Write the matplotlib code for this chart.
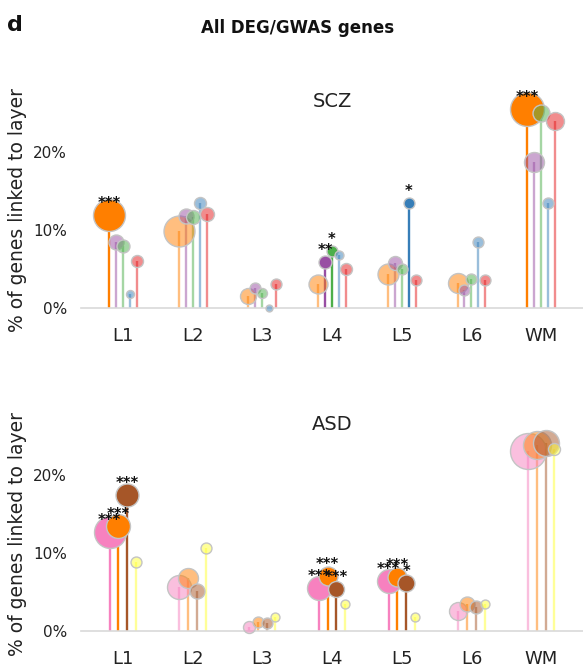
import numpy as np
import matplotlib
matplotlib.use("Agg")
import matplotlib.pyplot as plt
from matplotlib.colors import to_rgba

layers = ["L1", "L2", "L3", "L4", "L5", "L6", "WM"]

# ---- SCZ: % of genes linked to each layer, per gene set ----
scz_orange_pct = [11.9, 9.8, 1.5, 3.0, 4.3, 3.1, 25.4]
scz_purple_pct = [8.4, 11.7, 2.5, 5.8, 5.7, 2.2, 18.7]
scz_green_pct = [7.9, 11.6, 1.8, 7.3, 4.9, 3.7, 25.0]
scz_blue_pct = [1.7, 13.4, 0.0, 6.7, 13.4, 8.4, 13.4]
scz_red_pct = [6.0, 12.0, 3.0, 5.0, 3.5, 3.5, 23.9]

# number of genes behind each point (marker area)
scz_orange_n = [256, 240, 64, 90, 110, 100, 289]
scz_purple_n = [56, 56, 30, 42, 49, 30, 100]
scz_green_n = [42, 49, 25, 30, 30, 30, 72]
scz_blue_n = [16, 36, 12, 20, 30, 30, 30]
scz_red_n = [36, 49, 30, 36, 30, 30, 81]

# enrichment significance
scz_orange_sig = ["***", "", "", "", "", "", "***"]
scz_purple_sig = ["", "", "", "**", "", "", ""]
scz_green_sig = ["", "", "", "*", "", "", ""]
scz_blue_sig = ["", "", "", "", "*", "", ""]
scz_red_sig = ["", "", "", "", "", "", ""]

# ---- ASD ----
asd_pink_pct = [12.7, 5.7, 0.5, 5.5, 6.4, 2.6, 23.1]
asd_orange_pct = [13.5, 6.8, 1.1, 7.0, 6.9, 3.4, 23.8]
asd_brown_pct = [17.5, 5.1, 1.0, 5.4, 6.2, 3.1, 24.1]
asd_yellow_pct = [8.9, 10.7, 1.8, 3.5, 1.8, 3.5, 23.3]

asd_pink_n = [256, 144, 36, 144, 144, 81, 324]
asd_orange_n = [144, 100, 30, 90, 90, 56, 196]
asd_brown_n = [132, 56, 30, 64, 72, 42, 169]
asd_yellow_n = [30, 30, 20, 20, 20, 20, 36]

asd_pink_sig = ["***", "", "", "***", "***", "", ""]
asd_orange_sig = ["***", "", "", "***", "***", "", ""]
asd_brown_sig = ["***", "", "", "***", "*", "", ""]
asd_yellow_sig = ["", "", "", "", "", "", ""]

RED, BLUE, GREEN, PURPLE = "#e41a1c", "#377eb8", "#4daf4a", "#984ea3"
ORANGE, YELLOW, BROWN, PINK = "#ff7f00", "#ffff33", "#a65628", "#f781bf"

TEXT = "#222222"


def lollipops(ax, series, title):
    k = len(series)
    step = 0.5 / k
    xbase = np.arange(len(layers))
    for i, (pct, n, sig, color) in enumerate(series):
        off = (i - (k - 1) / 2) * step
        for x, v, m, s in zip(xbase + off, pct, n, sig):
            y = v / 100.0
            a = 1.0 if s else 0.5
            ax.vlines(x, 0, y, color=color, alpha=a, lw=1.7, zorder=2,
                      clip_on=False)
            ax.scatter([x], [y], s=2.07 * m, facecolor=to_rgba(color, a),
                       edgecolor="#c4c4c4", linewidth=1.0, zorder=5 + i,
                       clip_on=False)
            if s:
                ax.annotate(s, (x, y), xytext=(0, 5.0),
                            textcoords="offset points", ha="center",
                            va="baseline", fontsize=10.5, fontweight="bold",
                            color="#111111", zorder=30,
                            annotation_clip=False)
    ax.set_xlim(-0.6, 6.6)
    ax.set_ylim(0, 0.25)
    ax.set_xticks(xbase)
    ax.set_xticklabels(layers, fontsize=13, color=TEXT)
    ax.set_yticks([0, 0.1, 0.2])
    ax.set_yticklabels(["0%", "10%", "20%"], fontsize=11, color=TEXT)
    ax.tick_params(axis="x", length=0, pad=14)
    ax.tick_params(axis="y", length=0, pad=10)
    for side in ("left", "right", "top"):
        ax.spines[side].set_visible(False)
    ax.spines["bottom"].set_color("#d9d9d9")
    ax.spines["bottom"].set_linewidth(1.2)
    ax.set_title(title, fontsize=14, color=TEXT, pad=4)
    ax.set_ylabel("% of genes linked to layer", fontsize=13.5, color=TEXT)
    ax.yaxis.set_label_coords(-0.108, 0.5)


fig = plt.figure(figsize=(5.83, 6.70), dpi=100)
ax_top = fig.add_axes([81 / 583, 362.5 / 670, 502 / 583, 195 / 670])
ax_bot = fig.add_axes([81 / 583, 39 / 670, 502 / 583, 195 / 670])

lollipops(ax_top, [
    (scz_orange_pct, scz_orange_n, scz_orange_sig, ORANGE),
    (scz_purple_pct, scz_purple_n, scz_purple_sig, PURPLE),
    (scz_green_pct, scz_green_n, scz_green_sig, GREEN),
    (scz_blue_pct, scz_blue_n, scz_blue_sig, BLUE),
    (scz_red_pct, scz_red_n, scz_red_sig, RED),
], "SCZ")

lollipops(ax_bot, [
    (asd_pink_pct, asd_pink_n, asd_pink_sig, PINK),
    (asd_orange_pct, asd_orange_n, asd_orange_sig, ORANGE),
    (asd_brown_pct, asd_brown_n, asd_brown_sig, BROWN),
    (asd_yellow_pct, asd_yellow_n, asd_yellow_sig, YELLOW),
], "ASD")

fig.text(297.5 / 583, 1 - 28 / 670, "All DEG/GWAS genes", ha="center",
         va="center", fontsize=12, fontweight="bold", color="#111111")
fig.text(7 / 583, 1 - 31 / 670, "d", ha="left", va="baseline",
         fontsize=16, fontweight="bold", color="#111111")

fig.savefig("out.png", dpi=100)
